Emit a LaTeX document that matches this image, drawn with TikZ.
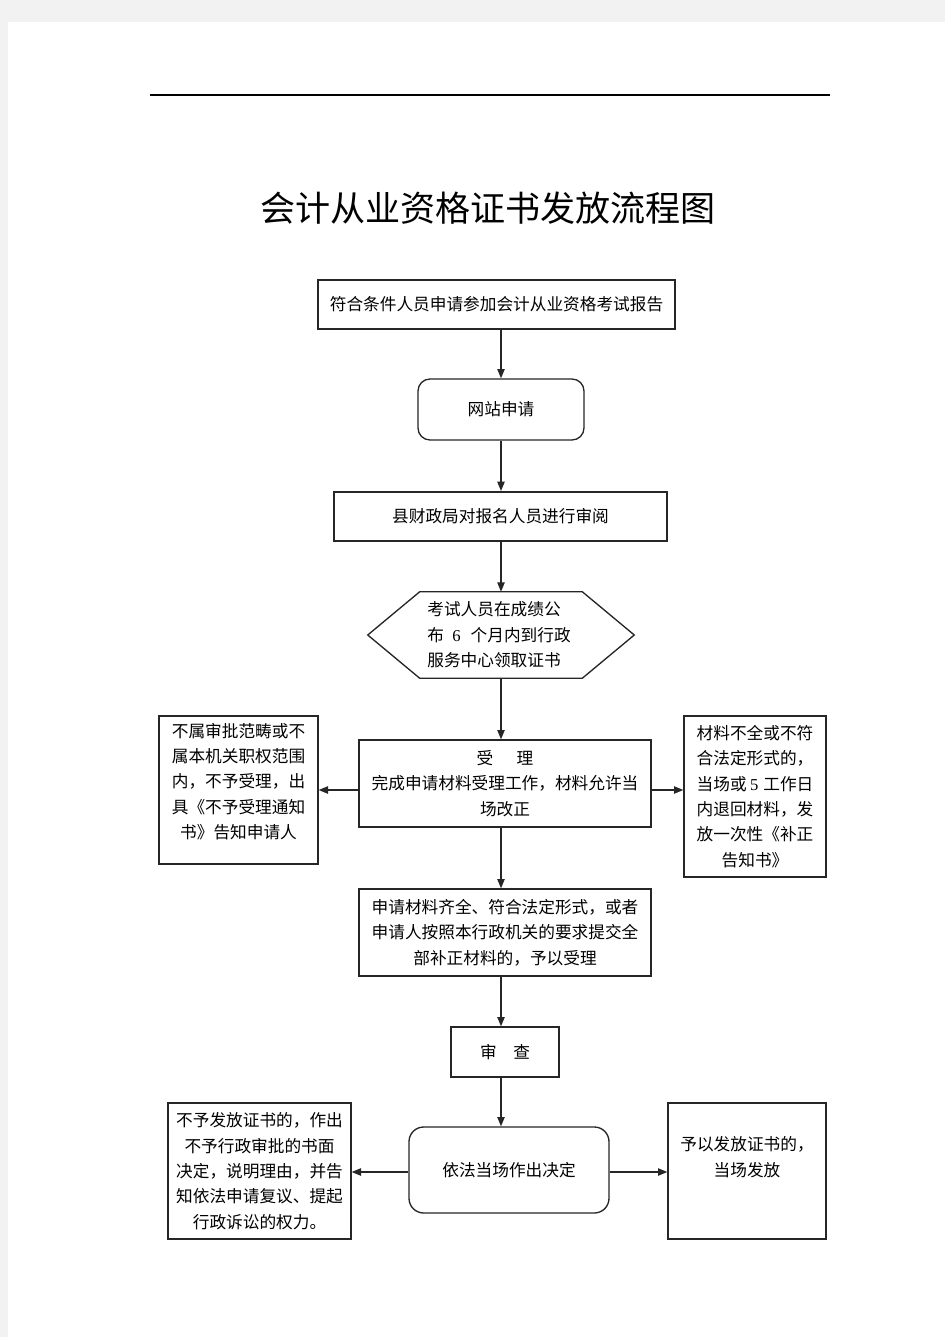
\documentclass[tikz,border=0pt]{standalone}
\usepackage{fontspec}
\setmainfont{Noto Sans CJK SC}
\newfontfamily\numfont{Liberation Serif}
\usetikzlibrary{arrows.meta,calc}
\tikzset{
  box/.style={draw=black!85, line width=1pt, inner sep=0pt, align=center, font=\fontsize{12.5}{19}\selectfont},
  sz/.style 2 args={minimum width=#1*0.75pt, minimum height=#2*0.75pt},
  thickbox/.style={box, line width=1.5pt},
  rbox/.style={box, rounded corners=9pt},
  plain/.style={inner sep=0pt, align=center, font=\fontsize{12.5}{19}\selectfont},
  arr/.style={draw=black!85, line width=1pt, -{Triangle[length=7pt,width=5.5pt]}}
}
\begin{document}
\begin{tikzpicture}[x=0.75pt,y=-0.75pt]
\fill[black!5] (0,0) rectangle (945,1337);
\fill[white] (8,22) rectangle (945,1337);
\useasboundingbox (0,0) rectangle (945,1337);
% header rule
\draw[black, line width=0.8pt] (150,95) -- (830,95);
% title
\node[inner sep=0pt, font=\fontsize{26.3}{30}\selectfont] (title) at (488,208) {会计从业资格证书发放流程图};
% boxes
\node[box, sz={357}{49}] (b1) at (496.5,304.5) {符合条件人员申请参加会计从业资格考试报告};
\node[rbox, sz={166}{61}] (b2) at (501,409.5) {网站申请};
\node[thickbox, sz={333}{49}] (b3) at (500.5,516.5) {县财政局对报名人员进行审阅};
% hexagon
\node[inner sep=0pt, sz={266}{86}] (hex) at (501,635) {};
\draw[black!85, line width=1pt] (hex.west) -- ($(hex.north west)+(52,0)$) -- ($(hex.north east)+(-52,0)$) -- (hex.east) -- ($(hex.south east)+(-52,0)$) -- ($(hex.south west)+(52,0)$) -- cycle;
\node[plain, align=left] (hext) at (499,635) {考试人员在成绩公\\布\hspace{0.5em}{\numfont 6}\hspace{0.6em}个月内到行政\\服务中心领取证书};
% accept box
\node[box, sz={292}{87}] (b4) at (505,783.5) {受\hspace{1.4em}理\\完成申请材料受理工作，材料允许当\\场改正};
\node[box, sz={159}{148}] (bl) at (238.5,790) {};
\node[plain] (blt) at (238.5,781.5) {不属审批范畴或不\\属本机关职权范围\\内，不予受理，出\\具《不予受理通知\\书》告知申请人};
\node[box, sz={142}{161}] (br) at (755,796.5) {材料不全或不符\\合法定形式的，\\当场或\hspace{0.2em}{\numfont 5}\hspace{0.3em}工作日\\内退回材料，发\\放一次性《补正\\告知书》};
% complete box
\node[box, sz={292}{87}] (b5) at (505,932.5) {申请材料齐全、符合法定形式，或者\\申请人按照本行政机关的要求提交全\\部补正材料的，予以受理};
\node[box, sz={108}{50}] (b6) at (505,1052) {审\hspace{1em}查};
\node[rbox, rounded corners=11pt, sz={200}{86}] (b7) at (509,1170) {依法当场作出决定};
\node[box, sz={183}{136}] (dl) at (259.5,1171) {不予发放证书的，作出\\不予行政审批的书面\\决定，说明理由，并告\\知依法申请复议、提起\\行政诉讼的权力。};
\node[box, sz={158}{136}] (dr) at (747,1171) {};
\node[plain] (drt) at (747,1157) {予以发放证书的，\\当场发放};
% connectors
\draw[arr] (b1.south -| 501,0) -- (b2.north -| 501,0);
\draw[arr] (b2.south -| 501,0) -- (b3.north -| 501,0);
\draw[arr] (b3.south -| 501,0) -- (hex.north -| 501,0);
\draw[arr] (hex.south -| 501,0) -- (b4.north -| 501,0);
\draw[arr] (b4.west |- 0,790) -- (bl.east |- 0,790);
\draw[arr] (b4.east |- 0,790) -- (br.west |- 0,790);
\draw[arr] (b4.south -| 501,0) -- (b5.north -| 501,0);
\draw[arr] (b5.south -| 501,0) -- (b6.north -| 501,0);
\draw[arr] (b6.south -| 501,0) -- (b7.north -| 501,0);
\draw[arr] (b7.west |- 0,1172) -- (dl.east |- 0,1172);
\draw[arr] (b7.east |- 0,1172) -- (dr.west |- 0,1172);
\end{tikzpicture}
\end{document}
